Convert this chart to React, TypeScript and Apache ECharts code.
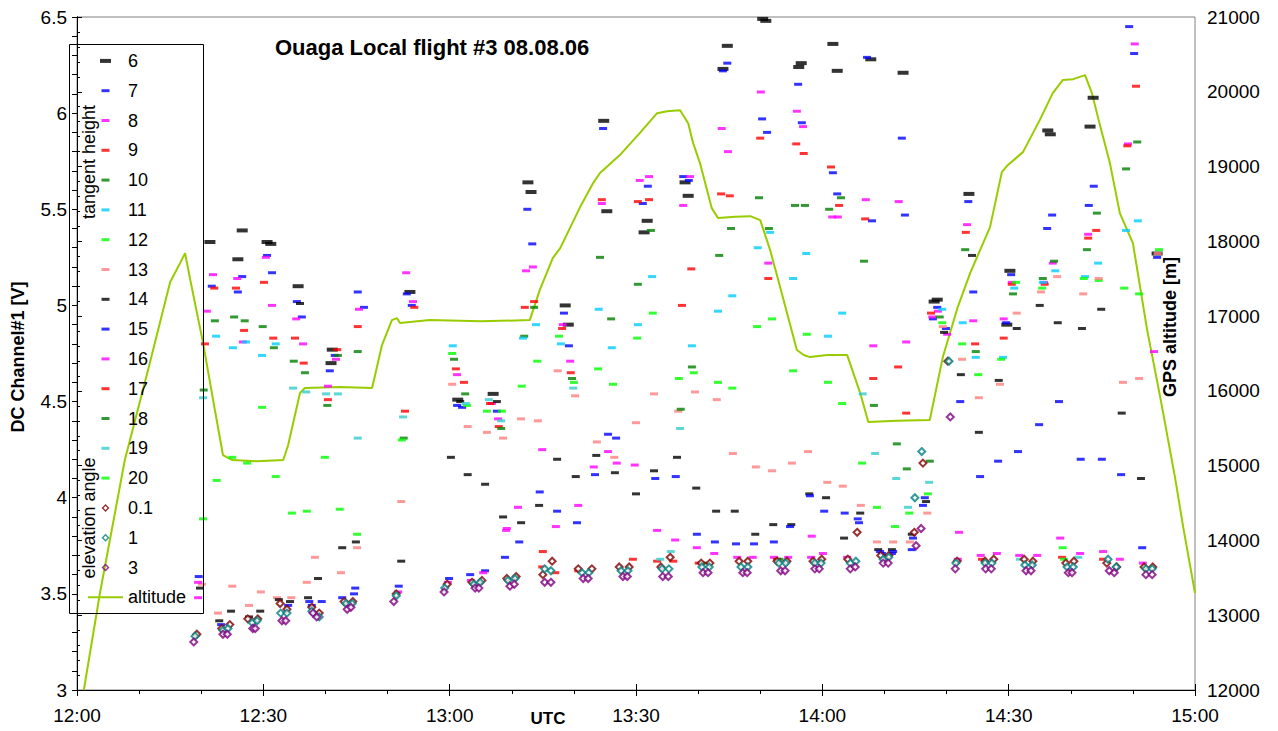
import React, { useEffect, useRef } from "react";
import * as echarts from "echarts";

// time axis in minutes after 12:00 UTC
const timeTicks = ["12:00", "12:30", "13:00", "13:30", "14:00", "14:30", "15:00"];

const th6 = [[21.4,5.33],[25.9,5.24],[26.6,5.39],[30.6,5.33],[31.2,5.32],[35.6,5.10],[40.9,4.70],[41.1,4.77],[53.6,5.07],[61.3,4.51],[67.0,4.54],[72.6,5.64],[73.1,5.59],[78.6,5.00],[79.1,4.90],[84.8,5.96],[85.3,5.49],[91.3,5.38],[91.8,5.44],[97.9,5.64],[98.4,5.57],[104.0,6.23],[104.7,6.35],[110.4,6.49],[110.9,6.48],[116.2,6.24],[116.6,6.26],[121.7,6.36],[122.4,6.22],[127.8,6.28],[133.0,6.21],[138.0,5.02],[138.5,5.03],[143.6,5.58],[149.7,4.90],[150.2,5.18],[156.3,5.91],[156.7,5.89],[163.1,5.93],[163.6,6.08],[173.9,5.27]];
const th7 = [[21.7,5.10],[25.9,5.07],[26.6,5.15],[30.6,5.26],[31.4,5.17],[35.4,5.02],[36.2,4.94],[40.7,4.66],[41.5,4.74],[45.2,5.07],[46.2,4.99],[53.1,5.06],[53.9,5.00],[61.2,4.48],[62.0,4.47],[67.6,4.45],[72.5,5.50],[73.3,5.32],[78.4,4.96],[79.2,4.79],[84.7,5.92],[91.1,5.53],[91.9,5.62],[97.6,5.67],[98.5,5.65],[104.0,6.22],[104.7,6.26],[110.3,5.97],[111.1,5.90],[116.1,6.15],[116.7,5.95],[121.7,5.69],[122.4,5.58],[127.2,6.29],[128.0,5.44],[132.8,5.87],[133.3,5.47],[137.8,4.93],[138.5,4.99],[139.9,4.88],[143.5,5.54],[144.3,5.07],[149.6,4.91],[150.4,5.16],[156.2,5.40],[157.0,5.47],[162.9,5.52],[163.7,5.62],[169.4,6.45],[170.2,6.31],[173.9,5.25]];
const th8 = [[20.9,4.97],[21.9,5.16],[25.8,5.14],[26.7,4.81],[30.4,5.25],[31.4,5.00],[35.3,4.93],[36.4,4.80],[40.4,4.58],[41.7,4.72],[45.4,4.98],[53.0,5.17],[54.1,5.02],[61.2,4.64],[66.8,4.49],[67.8,4.41],[72.3,5.18],[73.4,5.20],[78.2,4.90],[79.4,4.71],[84.5,5.53],[90.6,5.65],[92.1,5.67],[97.6,5.52],[98.7,5.67],[103.8,5.92],[104.8,5.80],[110.1,6.11],[111.3,5.22],[115.9,6.01],[116.9,5.93],[121.6,5.46],[122.5,5.46],[127.0,5.55],[128.2,4.79],[132.3,5.54],[133.5,4.81],[137.7,4.94],[138.6,4.97],[140.1,4.85],[143.3,5.42],[144.3,4.92],[149.2,4.93],[150.5,5.12],[155.7,5.12],[157.1,5.22],[162.8,5.37],[169.2,5.84],[170.3,6.36],[173.4,4.76]];
const th9 = [[20.6,4.80],[22.1,5.09],[25.6,5.09],[26.9,4.87],[30.1,5.12],[31.6,4.83],[35.1,4.83],[36.5,4.70],[40.4,4.51],[41.9,4.77],[45.2,4.89],[52.8,4.45],[54.3,4.99],[61.0,4.67],[62.3,4.60],[66.5,4.49],[67.9,4.37],[72.1,4.99],[73.6,5.02],[78.1,4.88],[79.5,4.65],[84.5,5.55],[90.3,5.54],[92.1,5.55],[97.4,5.00],[98.9,5.19],[103.7,5.58],[105.1,5.57],[110.0,5.87],[111.3,5.14],[115.8,5.84],[117.0,5.79],[121.4,5.72],[122.7,5.52],[126.9,5.45],[128.2,4.62],[132.2,4.68],[133.5,4.44],[137.5,4.96],[143.1,5.38],[144.6,4.80],[149.2,4.83],[150.5,5.11],[155.8,5.11],[162.8,5.35],[164.1,5.39],[169.1,5.83],[170.5,6.14]];
const th10 = [[20.4,4.56],[22.2,4.92],[25.3,4.94],[27.0,4.92],[29.9,4.89],[31.7,4.78],[34.9,4.71],[36.7,4.65],[40.3,4.48],[42.0,4.74],[45.2,4.76],[60.7,4.72],[62.5,4.54],[68.3,4.36],[72.0,4.84],[73.6,4.99],[79.7,4.62],[84.2,5.25],[86.0,4.93],[90.3,5.11],[92.4,5.39],[99.0,4.68],[103.4,5.26],[105.3,5.40],[109.8,5.56],[111.4,5.40],[115.6,5.52],[117.2,5.52],[121.1,5.50],[123.0,5.56],[126.7,5.23],[128.3,4.48],[138.9,4.94],[143.0,5.29],[144.7,4.76],[150.7,5.06],[155.5,5.14],[157.3,5.23],[162.6,5.29],[164.2,5.48],[168.9,5.71],[170.7,5.85]];
const th11 = [[22.4,4.84],[25.1,4.78],[27.2,4.81],[29.8,4.74],[32.0,4.80],[60.5,4.79],[71.8,4.83],[73.9,4.90],[77.9,4.80],[84.0,4.98],[86.1,4.78],[90.3,4.90],[92.6,5.15],[99.0,4.79],[103.2,4.97],[105.5,5.05],[109.6,5.30],[111.6,5.38],[115.3,5.14],[117.4,5.27],[120.9,4.84],[123.2,4.96],[139.3,4.98],[142.6,4.91],[144.7,4.73],[149.1,4.73],[150.9,5.09],[155.5,5.12],[157.5,5.18],[162.3,5.15],[164.4,5.22],[168.9,5.39],[170.8,5.44]];
const th12 = [[29.8,4.47],[60.4,4.75],[62.8,4.48],[66.0,4.45],[68.4,4.45],[71.6,4.58],[74.1,4.71],[77.6,4.84],[80.0,4.60],[83.9,4.67],[86.3,4.59],[90.2,4.83],[92.7,4.96],[96.9,4.62],[99.3,4.65],[103.2,4.60],[105.5,4.57],[109.5,4.89],[111.9,4.93],[115.3,4.66],[117.5,4.85],[120.9,4.60],[123.2,4.49],[139.3,4.91],[142.5,4.80],[145.1,4.64],[148.8,4.72],[151.2,5.12],[155.4,5.09],[162.1,5.14],[164.5,5.13],[168.6,5.09],[171.0,5.06],[174.2,5.29]];
const th13 = [[20.1,3.55],[22.7,3.40],[25.0,3.54],[27.7,3.44],[29.6,3.51],[32.2,3.48],[34.5,3.48],[37.0,3.56],[38.3,3.69],[42.5,3.61],[45.1,3.74],[52.2,3.98],[60.4,4.59],[62.9,4.37],[66.0,4.34],[68.6,4.31],[71.5,4.41],[74.2,4.40],[77.4,4.66],[80.2,4.53],[83.7,4.29],[86.5,4.21],[90.0,4.39],[92.9,4.54],[96.8,4.45],[99.5,4.55],[103.0,4.51],[105.6,4.23],[109.3,4.16],[111.9,4.14],[115.1,4.18],[117.7,4.24],[120.8,4.08],[123.3,4.06],[126.2,3.96],[128.8,3.77],[131.4,3.77],[134.1,3.77],[136.9,3.92],[139.4,4.89],[142.5,4.72],[145.2,4.52],[148.6,4.59],[151.3,4.96],[155.2,5.07],[157.8,5.15],[162.0,5.06],[164.5,5.14],[168.4,4.60],[171.0,4.62],[174.0,5.27]];
const th14 = [[19.8,3.53],[22.9,3.36],[24.8,3.41],[27.7,3.38],[29.5,3.41],[32.5,3.47],[34.3,3.46],[35.9,5.01],[37.2,3.48],[38.8,3.58],[42.7,3.74],[44.9,3.77],[52.2,3.67],[60.2,4.21],[61.7,4.50],[62.9,4.12],[65.7,4.07],[67.6,4.50],[68.6,3.90],[71.5,3.87],[74.4,3.96],[77.3,4.20],[80.3,4.11],[83.6,4.22],[86.6,4.13],[90.0,4.02],[92.9,4.14],[96.6,4.21],[99.7,4.05],[102.9,3.93],[105.9,3.93],[109.2,3.81],[112.1,3.86],[115.0,3.86],[117.9,4.02],[120.6,4.00],[123.5,3.79],[126.1,3.92],[129.0,3.73],[131.2,3.73],[134.4,3.81],[136.7,3.98],[139.6,4.86],[142.3,4.64],[144.1,5.26],[145.2,4.34],[148.4,4.61],[151.3,4.88],[155.0,5.00],[157.9,4.91],[161.8,4.88],[164.9,4.98],[168.2,4.44],[171.3,4.10]];
const th15 = [[19.6,3.59],[23.2,3.34],[34.0,3.44],[37.4,3.46],[37.8,3.44],[39.4,3.46],[42.7,3.48],[44.6,3.50],[44.8,3.53],[51.8,3.54],[59.9,3.58],[63.3,3.60],[65.7,3.62],[68.9,3.69],[71.2,3.77],[74.5,4.03],[77.3,3.93],[80.5,3.87],[83.4,4.12],[85.5,4.33],[86.8,4.31],[93.1,4.10],[96.4,4.11],[99.8,3.81],[102.7,3.77],[106.1,3.76],[109.0,3.76],[112.2,3.77],[114.8,3.85],[118.0,4.01],[120.3,3.93],[123.6,3.92],[125.7,3.89],[125.9,3.87],[129.3,3.72],[129.6,3.71],[131.2,3.71],[131.4,3.72],[134.4,3.73],[134.6,3.79],[136.2,3.96],[136.5,4.00],[142.2,4.50],[145.4,4.11],[148.3,4.19],[151.5,4.24],[154.9,4.38],[158.1,4.50],[161.6,4.20],[165.0,4.20],[168.1,4.12],[171.5,3.74]];
const th16 = [[19.5,3.56],[19.5,3.48],[51.7,3.51],[59.7,3.56],[63.4,3.57],[65.4,3.61],[69.1,3.83],[69.2,3.84],[71.0,3.95],[74.9,4.25],[77.1,3.85],[80.7,3.96],[83.2,4.16],[85.5,4.24],[86.9,4.18],[89.8,4.17],[93.4,3.83],[96.3,3.78],[99.8,3.74],[102.6,3.71],[106.3,3.69],[108.8,3.69],[112.2,3.69],[114.5,3.69],[118.2,3.69],[118.3,3.80],[120.1,3.71],[124.0,3.69],[141.8,3.68],[142.0,3.82],[145.5,3.70],[148.1,3.71],[151.7,3.70],[154.6,3.70],[158.3,3.79],[161.5,3.71],[165.2,3.72],[167.9,3.68],[171.6,3.66]];
const th17 = [[74.9,3.64],[75.0,3.72],[77.0,3.61],[80.7,3.62],[89.5,3.68],[93.4,3.67],[96.0,3.67],[100.1,3.66],[112.7,3.68],[145.7,3.68],[158.6,3.69],[165.2,3.68]];
const th18 = [[52.6,4.31],[97.2,4.46],[100.8,3.66],[113.1,3.68],[132.0,4.28],[133.6,4.15],[137.3,4.19]];
const th19 = [[20.3,4.52],[34.8,4.57],[36.9,4.55],[40.1,4.54],[42.0,4.54],[45.2,4.31],[52.5,4.42],[62.6,4.49],[66.3,4.51],[68.3,4.40],[79.9,4.57],[93.9,3.68],[95.6,3.72],[97.1,4.36],[126.5,4.54],[128.5,4.23],[131.9,4.10],[133.8,3.95],[137.2,4.08],[151.8,3.68],[161.2,3.69]];
const th20 = [[20.3,3.89],[22.5,4.09],[25.0,4.21],[27.4,4.18],[32.0,4.11],[34.6,3.92],[37.0,3.93],[39.9,4.21],[42.3,3.94],[45.1,3.81],[52.3,4.30],[126.4,4.18],[128.8,3.95],[131.7,3.85],[134.0,3.92],[137.0,4.02],[158.7,3.74],[158.9,3.68]];

const el01 = [[19.3,3.29],[23.3,3.32],[24.6,3.34],[27.5,3.37],[29.1,3.37],[32.7,3.45],[33.8,3.42],[37.8,3.43],[39.0,3.40],[43.0,3.46],[44.4,3.46],[51.4,3.50],[59.6,3.55],[63.6,3.56],[65.2,3.57],[69.2,3.58],[70.7,3.59],[75.0,3.60],[76.5,3.67],[80.7,3.63],[82.9,3.63],[87.3,3.64],[88.9,3.64],[94.0,3.64],[95.5,3.69],[100.5,3.66],[101.9,3.66],[106.6,3.67],[108.0,3.67],[112.7,3.67],[114.3,3.67],[118.5,3.67],[119.9,3.68],[124.1,3.68],[125.6,3.82],[129.4,3.70],[130.7,3.70],[134.8,3.82],[136.2,4.18],[140.2,4.71],[141.7,3.67],[146.2,3.67],[147.6,3.68],[152.5,3.68],[153.9,3.67],[159.2,3.66],[160.5,3.67],[165.8,3.66],[167.4,3.64],[171.8,3.64],[173.2,3.64]];
const el1 = [[19.0,3.28],[23.5,3.31],[24.3,3.32],[28.2,3.35],[29.0,3.36],[32.8,3.40],[33.8,3.40],[37.8,3.41],[39.0,3.38],[43.3,3.45],[44.3,3.45],[51.4,3.49],[59.2,3.53],[63.9,3.55],[64.9,3.56],[69.4,3.57],[70.5,3.58],[75.3,3.63],[76.3,3.62],[81.3,3.61],[82.4,3.61],[87.6,3.62],[88.7,3.62],[94.2,3.63],[95.3,3.63],[100.6,3.64],[101.8,3.64],[106.9,3.64],[108.0,3.64],[113.0,3.66],[114.1,3.66],[118.8,3.66],[119.8,3.66],[124.5,3.66],[125.4,3.67],[129.8,3.68],[130.7,3.69],[134.9,4.00],[136.0,4.24],[140.4,4.71],[141.5,3.66],[146.2,3.66],[147.3,3.66],[152.6,3.65],[153.8,3.65],[159.4,3.64],[160.4,3.64],[166.0,3.68],[167.3,3.64],[172.1,3.63],[173.1,3.63]];
const el3 = [[18.8,3.25],[23.5,3.29],[24.2,3.29],[28.3,3.32],[28.7,3.32],[33.0,3.36],[33.6,3.36],[38.0,3.40],[38.6,3.38],[43.5,3.42],[44.1,3.43],[51.0,3.46],[59.1,3.51],[64.1,3.53],[64.7,3.53],[69.7,3.54],[70.4,3.55],[75.3,3.56],[76.3,3.56],[81.5,3.58],[82.3,3.58],[87.9,3.59],[88.6,3.59],[94.3,3.59],[95.2,3.59],[100.8,3.61],[101.6,3.61],[107.2,3.61],[107.9,3.61],[113.3,3.62],[114.0,3.62],[118.8,3.63],[119.5,3.63],[124.5,3.63],[125.3,3.64],[129.8,3.66],[130.6,3.66],[135.1,3.75],[135.9,3.84],[140.6,4.42],[141.4,3.63],[146.3,3.63],[147.2,3.63],[152.8,3.62],[153.6,3.62],[159.6,3.61],[160.2,3.61],[166.2,3.62],[167.0,3.61],[172.1,3.60],[173.1,3.60]];

const altitude = [[1.1,12000],[3.7,13297],[7.7,15075],[11.5,16300],[15.0,17455],[16.6,17709],[17.4,17843],[18.2,17500],[20.3,16639],[22.2,15744],[23.5,15142],[25.0,15075],[29.0,15060],[33.2,15075],[34.0,15276],[35.9,15971],[36.7,16038],[42.3,16051],[47.5,16038],[48.0,16212],[49.1,16613],[50.7,16947],[51.5,16974],[52.0,16907],[56.8,16947],[65.0,16930],[72.9,16947],[74.5,17348],[76.6,17776],[77.8,17909],[81.0,18458],[83.1,18779],[84.2,18913],[87.4,19153],[90.6,19447],[93.4,19714],[95.0,19740],[97.1,19754],[98.4,19580],[99.2,19313],[100.3,19046],[102.2,18444],[103.2,18311],[106.0,18330],[108.4,18337],[110.0,18284],[111.6,17883],[113.2,17388],[115.9,16546],[117.0,16480],[118.0,16452],[120.8,16479],[124.0,16479],[126.1,15971],[127.4,15583],[132.0,15600],[137.3,15610],[139.4,16452],[141.8,17121],[143.8,17575],[147.0,18190],[148.9,18926],[149.7,19006],[152.3,19193],[155.0,19621],[157.1,19982],[158.7,20156],[160.4,20169],[162.3,20223],[163.4,19982],[164.7,19554],[166.3,19046],[167.9,18377],[170.0,17976],[172.3,16813],[174.4,15917],[176.8,14834],[178.1,14179],[180.0,13297]];

const FONT = "'Liberation Sans', Arial, sans-serif";

const dashIcon = "path://M0,0M35,10M13.5,3.5h8v3h-8z";
const thickIcon = "path://M0,0M35,10M12,3h11v4h-11z";
const diamondIcon = "path://M0,0M35,10M17.5,1L21.5,5L17.5,9L13.5,5ZM17.5,3L15.5,5L17.5,7L19.5,5Z";
const lineIcon = "path://M0,0M35,10M0,4h35v2h-35z";

const dashSeries = [
  { name: "6", data: th6, color: "#000000", thick: true },
  { name: "7", data: th7, color: "#0000FF" },
  { name: "8", data: th8, color: "#FF00FF" },
  { name: "9", data: th9, color: "#FF0000" },
  { name: "10", data: th10, color: "#008000" },
  { name: "11", data: th11, color: "#00CCFF" },
  { name: "12", data: th12, color: "#00FF00" },
  { name: "13", data: th13, color: "#FF8080" },
  { name: "14", data: th14, color: "#000000" },
  { name: "15", data: th15, color: "#0000FF" },
  { name: "16", data: th16, color: "#FF00FF" },
  { name: "17", data: th17, color: "#FF0000" },
  { name: "18", data: th18, color: "#008000" },
  { name: "19", data: th19, color: "#33CCCC" },
  { name: "20", data: th20, color: "#00FF00" },
];
const diamondSeries = [
  { name: "0.1", data: el01, color: "#800000" },
  { name: "1", data: el1, color: "#008080" },
  { name: "3", data: el3, color: "#800080" },
];

export default function App() {
  const ref = useRef<HTMLDivElement>(null);
  useEffect(() => {
    const chart = echarts.init(ref.current as HTMLDivElement, null, { renderer: "svg" });
    const series: any[] = [
      {
        name: "altitude",
        type: "line",
        yAxisIndex: 1,
        data: altitude,
        symbol: "none",
        lineStyle: { color: "#99CC00", width: 2 },
        itemStyle: { color: "#99CC00" },
        z: 2,
      },
    ];
    dashSeries.forEach((s: any) => {
      series.push({
        name: s.name,
        type: "scatter",
        data: s.data,
        symbol: "rect",
        symbolSize: s.thick ? [11, 4] : [8, 3],
        itemStyle: { color: s.color },
        z: 3,
      });
    });
    diamondSeries.forEach((s) => {
      series.push({
        name: s.name,
        type: "scatter",
        data: s.data,
        symbol: "emptyDiamond",
        symbolSize: 7,
        itemStyle: { color: s.color },
        z: 4,
      });
    });

    const legendData = [
      ...dashSeries.map((s: any) => ({ name: s.name, icon: s.thick ? thickIcon : dashIcon })),
      ...diamondSeries.map((s) => ({ name: s.name, icon: diamondIcon })),
      { name: "altitude", icon: lineIcon },
    ];

    const axisText = { fontSize: 19, color: "#000", fontFamily: FONT };
    const option: any = {
      animation: false,
      backgroundColor: "#fff",
      title: {
        text: "Ouaga Local flight #3 08.08.06",
        left: 275,
        top: 36,
        padding: 0,
        textStyle: { fontSize: 22, fontWeight: "bold", color: "#000", fontFamily: FONT },
      },
      grid: {
        left: 77,
        right: 83,
        top: 17,
        bottom: 41,
        show: true,
        borderColor: "#808080",
        borderWidth: 1,
        backgroundColor: "transparent",
      },
      legend: {
        orient: "vertical",
        left: 88,
        top: 46,
        padding: 0,
        itemGap: 0,
        itemWidth: 35,
        itemHeight: 10,
        selectedMode: false,
        data: legendData,
        textStyle: { fontSize: 18, color: "#000", fontFamily: FONT, lineHeight: 29.8 },
      },
      xAxis: [
        {
          type: "value",
          position: "bottom",
          min: 0,
          max: 180,
          interval: 30,
          axisLine: { show: true, lineStyle: { color: "#000", width: 1 } },
          axisTick: { show: true, length: 6, lineStyle: { color: "#000" } },
          minorTick: { show: true, splitNumber: 3, length: 4, lineStyle: { color: "#000" } },
          splitLine: { show: false },
          axisLabel: {
            ...axisText,
            margin: 16,
            formatter: (v: number) => timeTicks[Math.round(v / 30)] ?? "",
          },
        },
        {
          type: "value",
          position: "bottom",
          min: 0,
          max: 180,
          interval: 30,
          axisLine: { show: false },
          axisTick: { show: true, inside: true, length: 6, lineStyle: { color: "#000" } },
          splitLine: { show: false },
          axisLabel: { show: false },
        },
      ],
      yAxis: [
        {
          type: "value",
          position: "left",
          min: 3,
          max: 6.5,
          interval: 0.5,
          axisLine: { show: true, lineStyle: { color: "#000", width: 1 } },
          axisTick: { show: true, length: 5, lineStyle: { color: "#000" } },
          minorTick: { show: true, splitNumber: 5, length: 5, lineStyle: { color: "#000" } },
          splitLine: { show: false },
          axisLabel: { ...axisText, margin: 10, formatter: (v: number) => String(v) },
        },
        {
          type: "value",
          position: "right",
          min: 12000,
          max: 21000,
          interval: 1000,
          axisLine: { show: true, lineStyle: { color: "#000", width: 1 } },
          axisTick: { show: true, length: 5, lineStyle: { color: "#000" } },
          minorTick: { show: true, splitNumber: 5, length: 3, lineStyle: { color: "#000" } },
          splitLine: { show: false },
          axisLabel: { ...axisText, margin: 12, formatter: (v: number) => String(v) },
        },
      ],
      graphic: [
        {
          type: "rect",
          shape: { x: 69.5, y: 44.5, width: 134, height: 569 },
          style: { fill: "none", stroke: "#000", lineWidth: 1 },
          z: 100,
        },
        {
          type: "text",
          x: 89,
          y: 162,
          rotation: Math.PI / 2,
          style: { text: "tangent height", fontSize: 18, fontFamily: FONT, fill: "#000", align: "center", verticalAlign: "middle" },
          z: 100,
        },
        {
          type: "text",
          x: 89,
          y: 518,
          rotation: Math.PI / 2,
          style: { text: "elevation angle", fontSize: 18, fontFamily: FONT, fill: "#000", align: "center", verticalAlign: "middle" },
          z: 100,
        },
        {
          type: "text",
          x: 18,
          y: 357,
          rotation: Math.PI / 2,
          style: { text: "DC Channel#1 [V]", fontSize: 18, fontWeight: "bold", fontFamily: FONT, fill: "#000", align: "center", verticalAlign: "middle" },
          z: 100,
        },
        {
          type: "text",
          x: 1170,
          y: 327,
          rotation: Math.PI / 2,
          style: { text: "GPS altitude [m]", fontSize: 18, fontWeight: "bold", fontFamily: FONT, fill: "#000", align: "center", verticalAlign: "middle" },
          z: 100,
        },
        {
          type: "text",
          x: 548,
          y: 718,
          style: { text: "UTC", fontSize: 17, fontWeight: "bold", fontFamily: FONT, fill: "#000", align: "center", verticalAlign: "middle" },
          z: 100,
        },
      ],
      series,
    };
    chart.setOption(option);
    return () => chart.dispose();
  }, []);
  return (
    <div
      ref={ref}
      style={{ position: "absolute", left: 0, top: 0, width: 1278, height: 731, background: "#fff" }}
    />
  );
}
